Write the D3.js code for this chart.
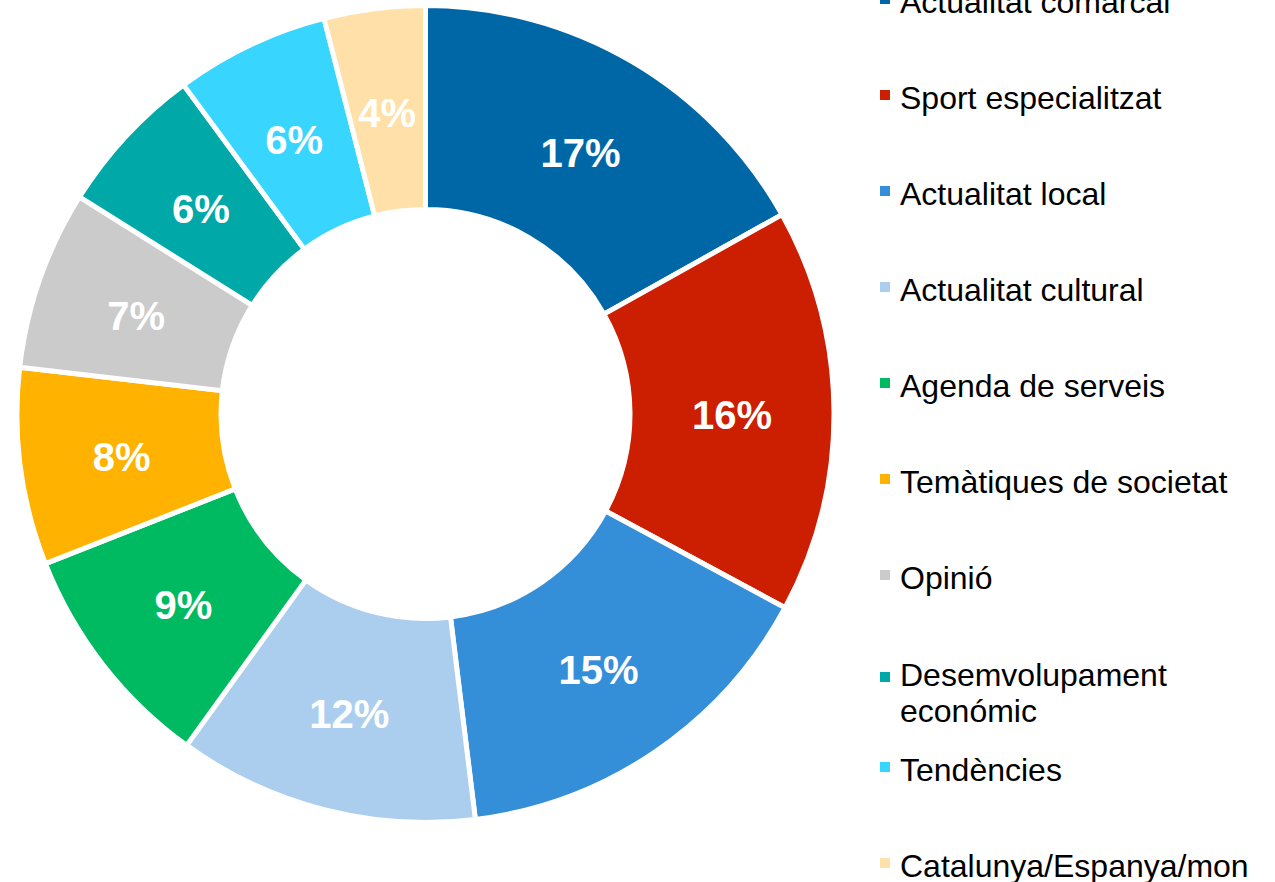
<!DOCTYPE html>
<html>
<head>
<meta charset="utf-8">
<script src="https://cdn.jsdelivr.net/npm/d3@7"></script>
<style>
  html, body { margin: 0; padding: 0; background: #ffffff; }
  svg { display: block; }
</style>
</head>
<body>
<svg id="chart" width="1275" height="882"></svg>
<script>
// ---- data ----
const categories = [
  "Actualitat comarcal",
  "Sport especialitzat",
  "Actualitat local",
  "Actualitat cultural",
  "Agenda de serveis",
  "Temàtiques de societat",
  "Opinió",
  "Desemvolupament económic",
  "Tendències",
  "Catalunya/Espanya/mon"
];
const values = [16.9, 16.0, 15.2, 11.9, 9.1, 7.8, 7.1, 6.0, 6.1, 4.0];
const colors = [
  "#0067A7", "#CC1E00", "#358ED8", "#ABCEEF", "#00BA62",
  "#FFB200", "#CBCBCB", "#00A8A8", "#38D6FF", "#FFE0A8"
];
// legend label lines (wrapped as in the reference)
const legendLines = [
  ["Actualitat comarcal"],
  ["Sport especialitzat"],
  ["Actualitat local"],
  ["Actualitat cultural"],
  ["Agenda de serveis"],
  ["Temàtiques de societat"],
  ["Opinió"],
  ["Desemvolupament", "económic"],
  ["Tendències"],
  ["Catalunya/Espanya/mon"]
];

// ---- layout ----
const svg = d3.select("#chart");
const cx = 425.5, cy = 414;
const outerR = 408.5, innerR = 204.5;   // visible 406 / 207 after the white stroke
const total = d3.sum(values);

const pie = d3.pie().sort(null).value(d => d.v);
const data = categories.map((c, i) => ({ c, v: values[i], color: colors[i] }));
const arcs = pie(data);

const arc = d3.arc().innerRadius(innerR).outerRadius(outerR);
const labelArc = d3.arc().innerRadius(306.5).outerRadius(306.5);

const g = svg.append("g").attr("transform", `translate(${cx},${cy})`);

g.selectAll("path.slice")
  .data(arcs)
  .join("path")
  .attr("class", "slice")
  .attr("d", arc)
  .attr("fill", d => d.data.color)
  .attr("stroke", "#ffffff")
  .attr("stroke-width", 5)
  .attr("stroke-linejoin", "miter");

g.selectAll("text.lbl")
  .data(arcs)
  .join("text")
  .attr("class", "lbl")
  .attr("transform", d => `translate(${labelArc.centroid(d)})`)
  .attr("text-anchor", "middle")
  .attr("dy", "0.43em")
  .attr("fill", "#ffffff")
  .style("font-family", "'Liberation Sans', Arial, sans-serif")
  .style("font-weight", "bold")
  .style("font-size", "40px")
  .text(d => Math.round(d.data.v / total * 100) + "%");

// ---- legend ----
const legendX = 880, legendTextX = 900;
const slotY = categories.map((c, i) => -1 + i * 96 + (i === 7 ? 6 : 0));
const leg = svg.append("g");
categories.forEach((c, i) => {
  const y = slotY[i];
  leg.append("rect")
    .attr("x", legendX).attr("y", y - 5)
    .attr("width", 10).attr("height", 10)
    .attr("fill", colors[i]);
  const t = leg.append("text")
    .attr("x", legendTextX).attr("y", y + (legendLines[i].length > 1 ? 9 : 14))
    .attr("fill", "#000000")
    .style("font-family", "'Liberation Sans', Arial, sans-serif")
    .style("font-size", "32px");
  legendLines[i].forEach((line, k) => {
    t.append("tspan")
      .attr("x", legendTextX)
      .attr("dy", k === 0 ? 0 : 36)
      .text(line);
  });
});
</script>
</body>
</html>
